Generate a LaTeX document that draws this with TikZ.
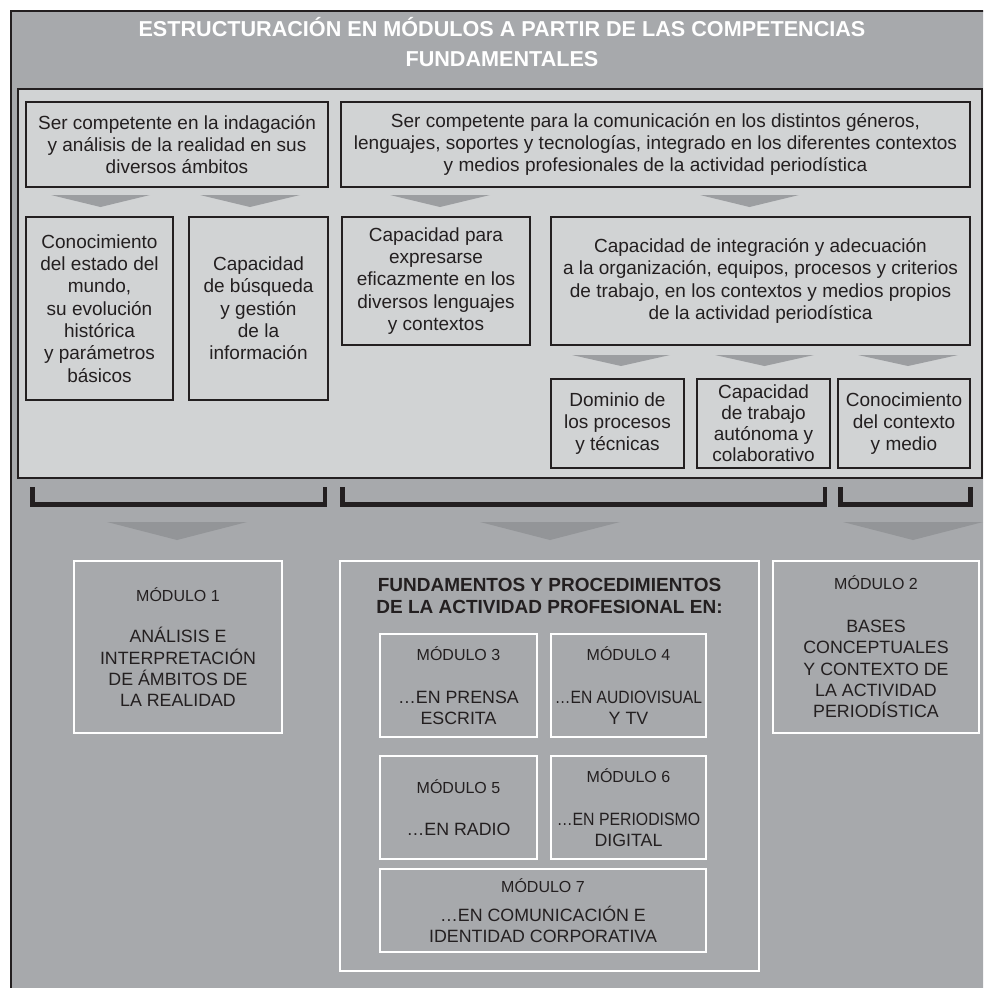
\documentclass[tikz,border=0pt]{standalone}
\usepackage{fontspec}
\setmainfont{Liberation Sans}
\definecolor{darkbg}{HTML}{A7A9AC}
\definecolor{lightbg}{HTML}{D1D3D4}
\definecolor{chevlight}{HTML}{9C9EA1}
\definecolor{chevdark}{HTML}{939598}
\definecolor{ink}{HTML}{231F20}
\newcommand\mychev[5]{\fill[#5] (#1,#3) -- (#2,#3) -- ({(#1+#2)/2},#4) -- cycle;}
\begin{document}
\begin{tikzpicture}[x=1pt,y=-1pt,
  cbox/.style={draw=ink, line width=1.3pt, fill=lightbg, text=ink, align=center, inner sep=0pt,
    font=\fontsize{19}{22.3}\selectfont},
  fbox/.style={cbox, font=\fontsize{19}{21}\selectfont},
  mbox/.style={draw=white, line width=1.3pt, text=ink, align=center, inner sep=0pt,
    font=\fontsize{17.8}{21.3}\selectfont},
  bracket/.style={draw=ink, line width=4.8pt, miter limit=10},
  titletext/.style={text=white, align=center, inner sep=0pt, font=\fontsize{21.6}{29.3}\selectfont\bfseries},
  boldtext/.style={text=ink, align=center, inner sep=0pt, font=\fontsize{19}{21.7}\selectfont\bfseries}
]
\useasboundingbox (0,0) rectangle (983,988);
\clip (0,0) rectangle (983,988);
\fill[white] (0,0) rectangle (983,988);
% outer frame
\draw[fill=darkbg, draw=ink, line width=1.5pt] (11,11) rectangle (995,1000);
\node[titletext] (title) at (502,42) {ESTRUCTURACIÓN EN MÓDULOS A PARTIR DE LAS COMPETENCIAS\\FUNDAMENTALES};
% light panel
\draw[fill=lightbg, draw=ink, line width=1.3pt] (18,89) rectangle (982,478);
% top boxes
\node[cbox, minimum width=302pt, minimum height=85pt] (top1) at (177,144.5)
  {Ser competente en la indagación\\y análisis de la realidad en sus\\diversos ámbitos};
\node[cbox, minimum width=629pt, minimum height=85pt] (top2) at (655.5,144.5)
  {Ser competente para la comunicación en los distintos géneros,\\lenguajes, soportes y tecnologías, integrado en los diferentes contextos\\y medios profesionales de la actividad periodística};
% chevrons row 1
\mychev{51}{150}{195}{207}{chevlight}
\mychev{200}{300}{195}{207}{chevlight}
\mychev{390}{490}{195}{207}{chevlight}
\mychev{700}{799}{195}{207}{chevlight}
% second row
\node[cbox, minimum width=147pt, minimum height=183pt] (ca) at (99.5,308.5)
  {Conocimiento\\del estado del\\mundo,\\su evolución\\histórica\\y parámetros\\básicos};
\node[cbox, minimum width=139pt, minimum height=183pt] (cb) at (258.5,308.5)
  {Capacidad\\de búsqueda\\y gestión\\de la\\información};
\node[cbox, minimum width=188pt, minimum height=128pt] (cc) at (436,281)
  {Capacidad para\\expresarse\\eficazmente en los\\diversos lenguajes\\y contextos};
\node[cbox, minimum width=419pt, minimum height=128pt] (cd) at (760.5,281)
  {Capacidad de integración y adecuación\\a la organización, equipos, procesos y criterios\\de trabajo, en los contextos y medios propios\\de la actividad periodística};
% chevrons row 2
\mychev{572}{670}{355}{366}{chevlight}
\mychev{715}{814}{355}{366}{chevlight}
\mychev{858}{958}{355}{366}{chevlight}
% third row
\node[cbox, minimum width=133pt, minimum height=89pt] (ce) at (617.5,423.5)
  {Dominio de\\los procesos\\y técnicas};
\node[fbox, minimum width=133pt, minimum height=89pt] (cf) at (763.5,423.5)
  {Capacidad\\de trabajo\\autónoma y\\colaborativo};
\node[cbox, minimum width=132pt, minimum height=89pt] (cg) at (904,423.5)
  {Conocimiento\\del contexto\\y medio};
% brackets
\draw[bracket] (32.5,487) -- (32.5,504.5) -- (325,504.5) -- (325,487);
\draw[bracket] (342.5,487) -- (342.5,504.5) -- (825,504.5) -- (825,487);
\draw[bracket] (840.5,487) -- (840.5,504.5) -- (970.5,504.5) -- (970.5,487);
% big chevrons
\mychev{107}{247}{522}{540}{chevdark}
\mychev{480}{620}{522}{540}{chevdark}
\mychev{843}{983}{522}{540}{chevdark}
% modules
\node[mbox, minimum width=208pt, minimum height=172pt] (m1) at (178,647)
  {{\fontsize{16}{19}\selectfont MÓDULO 1}\\[20.4pt]ANÁLISIS E\\INTERPRETACIÓN\\DE ÁMBITOS DE\\LA REALIDAD};
\node[mbox, minimum width=419pt, minimum height=410pt] (big) at (549.5,766) {};
\node[boldtext] (bigtitle) at (549.5,596) {FUNDAMENTOS Y PROCEDIMIENTOS\\DE LA ACTIVIDAD PROFESIONAL EN:};
\node[mbox, minimum width=206pt, minimum height=172pt] (m2) at (876,647)
  {{\fontsize{16}{19}\selectfont MÓDULO 2}\\[21.4pt]BASES\\CONCEPTUALES\\Y CONTEXTO DE\\LA ACTIVIDAD\\PERIODÍSTICA};
\node[mbox, minimum width=157pt, minimum height=103pt] (m3) at (458.5,685.5)
  {{\fontsize{16}{19}\selectfont MÓDULO 3}\\[22.1pt]…EN PRENSA\\ESCRITA};
\node[mbox, minimum width=155pt, minimum height=103pt] (m4) at (628.5,685.5)
  {{\fontsize{16}{19}\selectfont MÓDULO 4}\\[22.1pt]\scalebox{0.88}[1]{…EN AUDIOVISUAL}\\Y TV};
\node[mbox, minimum width=157pt, minimum height=103pt] (m5) at (458.5,807.5)
  {{\fontsize{16}{19}\selectfont MÓDULO 5}\\[21.3pt]…EN RADIO};
\node[mbox, minimum width=155pt, minimum height=103pt] (m6) at (628.5,807.5)
  {{\fontsize{16}{19}\selectfont MÓDULO 6}\\[21.3pt]\scalebox{0.89}[1]{…EN PERIODISMO}\\DIGITAL};
\node[mbox, minimum width=326pt, minimum height=83pt] (m7) at (543,910.5)
  {{\fontsize{16}{19}\selectfont MÓDULO 7}\\[8pt]…EN COMUNICACIÓN E\\IDENTIDAD CORPORATIVA};
\end{tikzpicture}
\end{document}
